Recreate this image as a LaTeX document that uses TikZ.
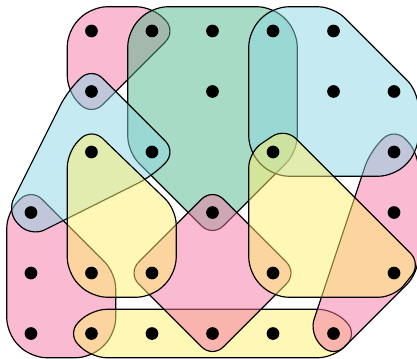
\documentclass[tikz,border=0pt]{standalone}
\usepackage{tikz}
\definecolor{hpink}{RGB}{243,117,165}
\definecolor{hgreen}{RGB}{81,183,139}
\definecolor{hcyan}{RGB}{139,213,227}
\definecolor{hyellow}{RGB}{255,239,109}

\begin{document}
\begin{tikzpicture}[x=1cm,y=-1cm,
    hedge/.style={draw=black,line width=0.55pt,fill opacity=0.5,
                  rounded corners=0.25cm},
    vtx/.style={circle,fill=black,inner sep=0pt,minimum size=0.21cm}]
  % --- frame: columns 0..6, rows 0..5 (rows counted downwards) ---
  \useasboundingbox (-0.512,-0.512) rectangle (6.38,5.405);
  % --- hyperedges, back to front ---
  % pink, bottom left
  \filldraw[hedge,fill=hpink] (-0.4,4) -- (-0.4,3) -- (0,2.6) -- (1.4,4)
    -- (1.4,5) -- (1,5.4) -- (0,5.4) -- (-0.4,5) -- cycle;
  % pink, top left
  \filldraw[hedge,fill=hpink] (0.6,0.5) -- (0.6,0) -- (1,-0.4) -- (2,-0.4)
    -- (2.4,0) -- (1,1.4) -- (0.6,1) -- cycle;
  % green, top middle
  \filldraw[hedge,fill=hgreen] (1.6,1) -- (1.6,0) -- (2,-0.4) -- (4,-0.4)
    -- (4.4,0) -- (4.4,2) -- (3,3.4) -- (1.6,2) -- cycle;
  % yellow band, bottom row
  \filldraw[hedge,fill=hyellow] (3,4.6) -- (5,4.6) -- (5.4,5) -- (5,5.4)
    -- (1,5.4) -- (0.6,5) -- (1,4.6) -- cycle;
  % pink diamond, bottom middle
  \filldraw[hedge,fill=hpink] (2.3,3.3) -- (3,2.6) -- (4.4,4) -- (3,5.4)
    -- (1.6,4) -- cycle;
  % pink, right
  \filldraw[hedge,fill=hpink] (6.4,3) -- (6.4,4) -- (5,5.4) -- (4.6,5)
    -- (5.6,2) -- (6,1.6) -- (6.4,2) -- cycle;
  % cyan, left
  \filldraw[hedge,fill=hcyan] (1.7,1.3) -- (2.4,2) -- (2,2.4) -- (0,3.4)
    -- (-0.4,3) -- (0.6,1) -- (1,0.6) -- cycle;
  % cyan, top right
  \filldraw[hedge,fill=hcyan] (3.6,1) -- (3.6,0) -- (4,-0.4) -- (5,-0.4)
    -- (6.4,1) -- (6.4,2) -- (6,2.4) -- (4,2.4) -- (3.6,2) -- cycle;
  % yellow, left
  \filldraw[hedge,fill=hyellow] (0.6,3) -- (0.6,2) -- (1,1.6) -- (2.4,2.95)
    -- (2.4,4) -- (2,4.4) -- (1,4.4) -- (0.6,4) -- cycle;
  % yellow, right
  \filldraw[hedge,fill=hyellow] (3.6,3) -- (3.6,2) -- (4.2,1.6) -- (6.45,3.85)
    -- (6,4.4) -- (4,4.4) -- (3.6,4) -- cycle;
  % --- vertices ---
  \foreach \i/\j in {1/0,2/0,3/0,4/0,5/0,
                     1/1,3/1,5/1,6/1,
                     1/2,2/2,4/2,6/2,
                     0/3,3/3,6/3,
                     0/4,1/4,2/4,4/4,6/4,
                     0/5,1/5,2/5,3/5,4/5,5/5}{
    \node[vtx] (v\i\j) at (\i,\j) {};}
\end{tikzpicture}
\end{document}
